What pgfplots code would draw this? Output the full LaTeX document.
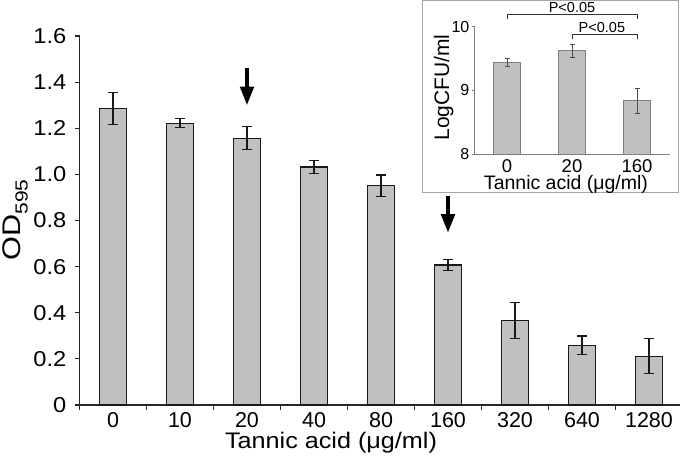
\documentclass[border=0pt]{standalone}
\usepackage{pgfplots}
\pgfplotsset{compat=1.18}
\usepackage{pgfplotstable}
\usepackage{fontspec}
\setmainfont{Liberation Sans}
\newfontfamily\wideA[FakeStretch=1.12]{Liberation Sans}
\newfontfamily\wideB[FakeStretch=1.2]{Liberation Sans}
\newfontfamily\wideC[FakeStretch=1.1]{Liberation Sans}
\usetikzlibrary{arrows.meta}
\definecolor{barfill}{HTML}{C0C0C0}
\definecolor{insetedge}{HTML}{7F7F7F}

\pgfplotstableread{
x y e
0 1.285 0.070
1 1.222 0.020
2 1.157 0.050
3 1.032 0.028
4 0.950 0.047
5 0.607 0.025
6 0.366 0.077
7 0.259 0.040
8 0.212 0.076
}\maindata

\pgfplotstableread{
x y e
0 9.44 0.07
1 9.62 0.10
2 8.84 0.195
}\insetdata

\begin{document}
\begin{tikzpicture}
\useasboundingbox (0pt,0pt) rectangle (680pt,465pt);

% ---------------- main axis ----------------
\begin{axis}[
  at={(79.5pt,60pt)}, anchor=south west,
  scale only axis, width=603pt, height=369pt,
  xmin=-0.5, xmax=8.5, ymin=0, ymax=1.6,
  axis x line*=bottom, axis y line*=left,
  axis line style={line width=1.2pt, color=black!85},
  tick style={line width=1.1pt, color=black!85},
  tick align=outside,
  xtick={-0.5,0.5,1.5,2.5,3.5,4.5,5.5,6.5,7.5,8.5},
  xticklabels={},
  major tick length=5pt,
  extra x ticks={0,1,2,3,4,5,6,7,8},
  extra x tick labels={0,10,20,40,80,160,320,640,1280},
  extra x tick style={major tick length=0pt},
  xticklabel style={font=\fontsize{21.5}{25}\selectfont, inner sep=0pt, yshift=-7pt},
  ytick={0,0.2,0.4,0.6,0.8,1.0,1.2,1.4,1.6},
  yticklabels={0,0.2,0.4,0.6,0.8,1.0,1.2,1.4,1.6},
  yticklabel style={font=\wideC\fontsize{21.5}{25}\selectfont, inner sep=0pt, xshift=-8pt},
  clip=false,
]
\addplot[ybar, bar width=27pt, fill=barfill, draw=black!90, line width=1.1pt,
  error bars/.cd, y dir=both, y explicit,
  error bar style={line width=1.2pt, color=black!90},
  error mark options={rotate=90, mark size=4.7pt, line width=1.2pt, color=black!90}]
  table[x=x, y=y, y error=e]{\maindata};
\draw[line width=4.6pt, -{Triangle[width=13pt,length=19pt]}] (axis cs:2,1.461) -- (axis cs:2,1.298);
\draw[line width=4.6pt, -{Triangle[width=13pt,length=19pt]}] (axis cs:5,0.908) -- (axis cs:5,0.745);
\end{axis}

\node[anchor=base, inner sep=0pt, font=\wideA\fontsize{22.5}{26}\selectfont] at (331pt,16.5pt) {Tannic acid (μg/ml)};
\node[rotate=90, anchor=base, font=\wideB\fontsize{25.5}{30}\selectfont] at (20.5pt,245pt)
  {OD\raisebox{-7pt}{\fontsize{17.5}{20}\selectfont 595}};

% ---------------- inset ----------------
\draw[draw=black!35, fill=white, line width=1pt] (422pt,272pt) rectangle (678pt,464.3pt);
\begin{axis}[
  at={(474.5pt,311pt)}, anchor=south west,
  scale only axis, width=195pt, height=127.3pt,
  xmin=-0.5, xmax=2.5, ymin=8, ymax=10,
  axis x line*=bottom, axis y line*=left,
  axis line style={line width=0.8pt, color=insetedge},
  tick style={line width=0.7pt, color=insetedge},
  tick align=outside, major tick length=3pt,
  xtick={0,1,2}, xticklabels={0,20,160},
  x tick style={draw=none},
  xticklabel style={font=\fontsize{18.5}{22}\selectfont, inner sep=0pt, yshift=-2pt},
  ytick={8,9,10}, yticklabels={8,9,10},
  yticklabel style={font=\fontsize{16}{19}\selectfont, inner sep=0pt, xshift=-2pt},
  clip=false,
]
\addplot[ybar, bar width=27pt, fill=barfill, draw=insetedge, line width=0.9pt,
  error bars/.cd, y dir=both, y explicit,
  error bar style={line width=0.6pt, color=black!70},
  error mark options={rotate=90, mark size=2.5pt, line width=0.6pt, color=black!70}]
  table[x=x, y=y, y error=e]{\insetdata};
\draw[line width=1pt, black!80] (axis cs:0,10.126) -- (axis cs:0,10.195) -- (axis cs:2,10.195) -- (axis cs:2,10.126);
\draw[line width=1pt, black!80] (axis cs:1,9.807) -- (axis cs:1,9.885) -- (axis cs:2,9.885) -- (axis cs:2,9.807);
\node[anchor=base, inner sep=0pt, font=\fontsize{14.5}{17}\selectfont] at (axis cs:1,10.195) [yshift=1.8pt] {P<0.05};
\node[anchor=base, inner sep=0pt, font=\fontsize{14.5}{17}\selectfont] at (axis cs:1.46,9.885) [yshift=1.8pt] {P<0.05};
\end{axis}
\node[anchor=base, inner sep=0pt, font=\fontsize{19.5}{23}\selectfont] at (566pt,275pt) {Tannic acid (μg/ml)};
\node[rotate=90, anchor=base, font=\fontsize{21}{25}\selectfont] at (449pt,377.5pt) {LogCFU/ml};

\end{tikzpicture}
\end{document}
